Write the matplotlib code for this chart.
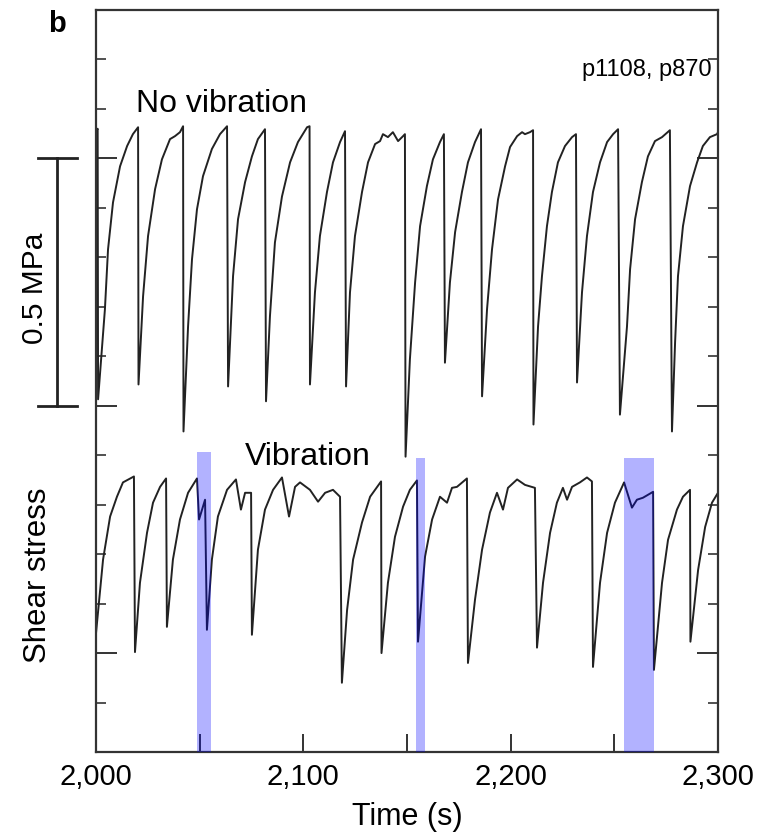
import matplotlib
matplotlib.use("Agg")
import matplotlib.pyplot as plt
import matplotlib.transforms as mtransforms
import numpy as np

plt.rcParams['font.family'] = ['Liberation Sans', 'DejaVu Sans']

# shear stress traces (time in s, stress in MPa, offset for display)
t_novib = [2000.0, 2000.8, 2001.0, 2004.3, 2005.8, 2008.2, 2011.6, 2015.0, 2017.8, 2020.3,
           2020.5, 2022.7, 2025.1, 2028.5, 2031.8, 2035.7, 2038.1, 2040.5, 2042.0,
           2042.2, 2044.4, 2046.3, 2048.7, 2051.6, 2055.9, 2059.8, 2063.2,
           2063.7, 2066.1, 2068.5, 2071.9, 2075.2, 2078.1, 2081.5,
           2082.0, 2083.9, 2086.3, 2089.7, 2093.6, 2097.4, 2101.8, 2103.0,
           2103.2, 2105.6, 2108.0, 2111.4, 2114.3, 2117.7, 2120.1,
           2120.6, 2122.5, 2124.9, 2128.3, 2131.2, 2134.6, 2137.0, 2138.4, 2140.8, 2143.2, 2145.7, 2148.1, 2149.0,
           2149.3, 2151.4, 2153.9, 2156.3, 2159.6, 2162.5, 2165.9, 2167.8,
           2168.3, 2170.7, 2173.2, 2176.5, 2179.4, 2182.8, 2185.7,
           2186.2, 2188.6, 2191.0, 2193.9, 2197.3, 2199.7, 2203.1, 2205.5, 2206.9, 2209.3, 2210.8,
           2211.0, 2213.2, 2215.1, 2217.5, 2219.9, 2222.8, 2226.2, 2229.6, 2231.5,
           2232.0, 2234.4, 2236.8, 2239.7, 2243.1, 2246.5, 2249.4, 2251.8,
           2252.7, 2256.1, 2257.6, 2260.0, 2263.3, 2266.2, 2269.6, 2273.0, 2276.8,
           2277.8, 2279.3, 2280.7, 2283.1, 2286.5, 2289.9, 2292.7, 2296.1, 2299.5, 2300.0]
s_novib = [1.255, 1.260, 0.713, 0.895, 1.016, 1.111, 1.184, 1.225, 1.249, 1.263,
           0.743, 0.921, 1.043, 1.138, 1.198, 1.239, 1.245, 1.253, 1.265,
           0.648, 0.860, 0.996, 1.097, 1.164, 1.219, 1.249, 1.265,
           0.739, 0.962, 1.077, 1.152, 1.204, 1.239, 1.259,
           0.709, 0.881, 1.030, 1.123, 1.192, 1.233, 1.263, 1.265,
           0.743, 0.929, 1.043, 1.132, 1.192, 1.233, 1.255,
           0.739, 0.929, 1.043, 1.132, 1.192, 1.229, 1.235, 1.249, 1.243, 1.253, 1.235, 1.245, 1.249,
           0.597, 0.794, 0.949, 1.063, 1.144, 1.198, 1.233, 1.249,
           0.787, 0.949, 1.051, 1.132, 1.192, 1.233, 1.259,
           0.719, 0.895, 1.016, 1.117, 1.184, 1.223, 1.245, 1.253, 1.249, 1.253, 1.257,
           0.662, 0.860, 0.962, 1.063, 1.132, 1.192, 1.225, 1.243, 1.249,
           0.747, 0.929, 1.043, 1.132, 1.192, 1.233, 1.249, 1.259,
           0.682, 0.860, 0.976, 1.077, 1.152, 1.204, 1.235, 1.243, 1.257,
           0.648, 0.828, 0.962, 1.063, 1.144, 1.192, 1.225, 1.243, 1.249, 1.253]

t_vib = [2000.0, 2003.4, 2006.8, 2010.1, 2013.0, 2018.3,
         2018.8, 2021.2, 2024.6, 2027.5, 2030.9, 2033.8,
         2034.2, 2037.1, 2040.5, 2044.4, 2048.7, 2049.7, 2052.6,
         2053.5, 2055.9, 2058.8, 2063.2, 2067.5, 2069.9, 2071.9, 2074.8,
         2075.2, 2078.1, 2081.5, 2085.4, 2089.7, 2093.1, 2096.0, 2098.4, 2103.2, 2107.1, 2110.5, 2114.3, 2117.7,
         2118.6, 2121.1, 2124.0, 2128.3, 2132.2, 2137.5,
         2137.7, 2140.8, 2144.2, 2148.1, 2151.4, 2154.8,
         2155.3, 2158.7, 2162.1, 2165.9, 2169.3, 2171.7, 2174.1, 2178.9,
         2179.4, 2182.8, 2186.2, 2190.0, 2193.4, 2196.3, 2198.7, 2203.1, 2206.9, 2211.7,
         2212.7, 2215.6, 2219.0, 2222.3, 2225.2, 2227.2, 2229.6, 2233.4, 2236.8, 2239.2,
         2239.7, 2243.1, 2246.5, 2250.3, 2254.7, 2258.5, 2260.9, 2263.8, 2268.7,
         2269.1, 2273.0, 2275.9, 2280.2, 2283.1, 2286.5,
         2286.7, 2290.4, 2293.8, 2297.1, 2300.0]
s_vib = [0.240, 0.389, 0.476, 0.516, 0.545, 0.557,
         0.202, 0.342, 0.443, 0.504, 0.536, 0.553,
         0.253, 0.389, 0.470, 0.524, 0.553, 0.470, 0.510,
         0.247, 0.389, 0.476, 0.530, 0.551, 0.490, 0.524, 0.524,
         0.237, 0.409, 0.490, 0.530, 0.555, 0.476, 0.536, 0.545, 0.530, 0.506, 0.524, 0.530, 0.516,
         0.140, 0.287, 0.389, 0.464, 0.516, 0.547,
         0.200, 0.342, 0.435, 0.496, 0.530, 0.549,
         0.223, 0.395, 0.470, 0.516, 0.504, 0.534, 0.536, 0.553,
         0.180, 0.308, 0.409, 0.484, 0.524, 0.490, 0.534, 0.551, 0.540, 0.534,
         0.211, 0.342, 0.443, 0.504, 0.534, 0.510, 0.536, 0.545, 0.555, 0.547,
         0.172, 0.342, 0.443, 0.504, 0.545, 0.494, 0.510, 0.514, 0.526,
         0.166, 0.342, 0.429, 0.490, 0.516, 0.530,
         0.223, 0.368, 0.455, 0.504, 0.524]

# vibration windows (s) and the level they reach up to
band_start = [2048.7, 2154.3, 2254.7]
band_end = [2055.5, 2158.7, 2269.1]
band_top = [0.607, 0.595, 0.595]

xtick_vals = [2000, 2100, 2200, 2300]
xtick_labels = ['2,000', '2,100', '2,200', '2,300']

fig = plt.figure(figsize=(7.63, 8.32), dpi=100)
ax = fig.add_axes([96 / 763, 80 / 832, 622 / 763, 742 / 832])

line_col = '#222222'
ax.plot(t_novib, s_novib, color=line_col, lw=1.4, zorder=2, solid_joinstyle='round')
ax.plot(t_vib, s_vib, color=line_col, lw=1.4, zorder=2, solid_joinstyle='round')

ymax = 1.5
for a, b, top in zip(band_start, band_end, band_top):
    ax.axvspan(a, b, ymin=0, ymax=top / ymax, color='blue', alpha=0.3, lw=0, zorder=3)

ax.set_xlim(2000, 2300)
ax.set_ylim(0, ymax)

ax.set_xticks(xtick_vals)
ax.set_xticklabels(xtick_labels)
ax.set_xticks([2050, 2150, 2250], minor=True)
ax.set_yticks([0.2, 0.7, 1.2])
ax.set_yticks(np.arange(0, 1.51, 0.1), minor=True)
ax.set_yticklabels([])

ax.tick_params(axis='x', which='both', direction='in', length=13, width=1.4,
               color='#333333', labelsize=21, pad=8, top=False)
ax.tick_params(axis='y', which='major', direction='in', length=15, width=1.4,
               color='#333333', left=True, right=True)
ax.tick_params(axis='y', which='minor', direction='in', length=7.5, width=1.2,
               color='#333333', left=True, right=True)
for sp in ax.spines.values():
    sp.set_linewidth(1.6)
    sp.set_color('#333333')

ax.set_xlabel('Time (s)', fontsize=22, labelpad=8)

# scale bar
trans = mtransforms.blended_transform_factory(ax.transAxes, ax.transData)
bar_x = -0.0627
ax.plot([bar_x, bar_x], [0.7, 1.2], color=line_col, lw=2, transform=trans, clip_on=False)
for yv in [0.7, 1.2]:
    ax.plot([-0.0932, -0.0305], [yv, yv], color=line_col, lw=2, transform=trans, clip_on=False)

fig.text(35 / 763, 1 - 288 / 832, '0.5 MPa', rotation=90, ha='center', va='center', fontsize=21.5)
fig.text(38 / 763, 1 - 575 / 832, 'Shear stress', rotation=90, ha='center', va='center', fontsize=22.5)
fig.text(48 / 763, 1 - 24 / 832, 'b', fontsize=21, fontweight='bold', ha='left', va='center')

ax.text((712 - 96) / 622, 1 - 60 / 742, 'p1108, p870', transform=ax.transAxes, ha='right', va='center', fontsize=17)
ax.text((222 - 96) / 622, 1 - 94 / 742, 'No vibration', transform=ax.transAxes, ha='center', va='center', fontsize=23)
ax.text((308 - 96) / 622, 1 - 447 / 742, 'Vibration', transform=ax.transAxes, ha='center', va='center', fontsize=23)

fig.savefig('out.png', dpi=100)
